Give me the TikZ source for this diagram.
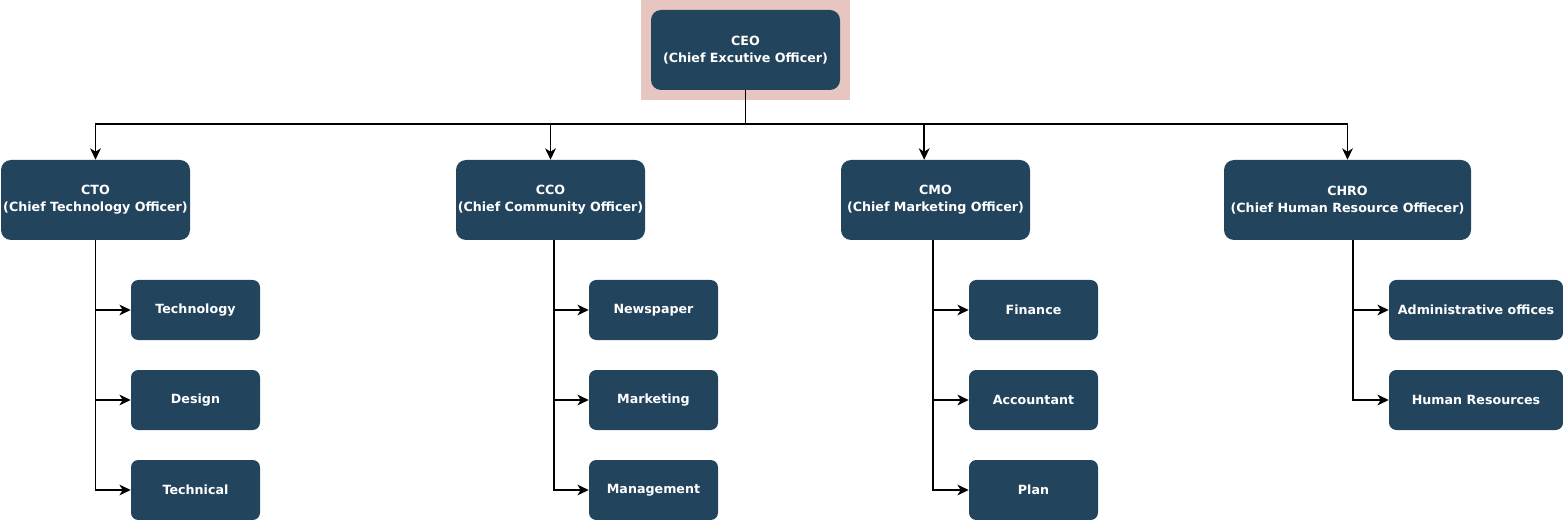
\documentclass[tikz,border=0pt]{standalone}
\usepackage{fontspec}
\setmainfont{DejaVu Sans}
\usetikzlibrary{arrows.meta}
\usepackage{xcolor}

\definecolor{boxblue}{RGB}{35,68,93}
\definecolor{ceopink}{RGB}{231,198,193}

\tikzset{
  chief/.style={draw=none, fill=boxblue, rounded corners=7.5pt, text=white, font=\bfseries\fontsize{9.5}{12.5}\selectfont, align=center, minimum width=141.75pt, minimum height=60pt, inner sep=0pt},
  dept/.style={draw=none, fill=boxblue, rounded corners=5.5pt, text=white, font=\bfseries\fontsize{9.5}{12.5}\selectfont, align=center, minimum width=96.75pt, minimum height=45pt, inner sep=0pt},
  link/.style={draw=black, line width=1.3pt, -{Stealth[length=8.5pt, width=8pt, inset=2.5pt]}}
}

\begin{document}
\begin{tikzpicture}[x=0.75pt,y=0.75pt,yscale=-1,xscale=1]
\useasboundingbox (0,0) rectangle (1563,520);

%Shape: Rectangle behind CEO
\fill [ceopink] (641,0) rectangle (850,100);

% Chief nodes
\node [chief] (ceo) at (745.5,50) {CEO\\(Chief Excutive Officer)};
\node [chief] (cto) at (95.5,200) {CTO\\(Chief Technology Officer)};
\node [chief] (cco) at (550.5,200) {CCO\\(Chief Community Officer)};
\node [chief] (cmo) at (935.5,200) {CMO\\(Chief Marketing Officer)};
\node [chief, minimum width=185.25pt] (chro) at (1347.5,200) {CHRO\\(Chief Human Resource Offiecer)};

% Department nodes
\node [dept] (tech) at (195.5,310) {Technology};
\node [dept] (design) at (195.5,400) {Design};
\node [dept] (technical) at (195.5,490) {Technical};
\node [dept] (news) at (653.5,310) {Newspaper};
\node [dept] (mkt) at (653.5,400) {Marketing};
\node [dept] (mgmt) at (653.5,490) {Management};
\node [dept] (fin) at (1033.5,310) {Finance};
\node [dept] (acc) at (1033.5,400) {Accountant};
\node [dept] (plan) at (1033.5,490) {Plan};
\node [dept, minimum width=130.5pt] (admin) at (1476,310) {Administrative offices};
\node [dept, minimum width=130.5pt] (hr) at (1476,400) {Human Resources};

% Bus under CEO
\coordinate (bus) at (745.5,124);
\draw [line width=1.3pt] (ceo.south) -- (bus);
\draw [link] (bus) -| (cto.north);
\draw [link] (bus) -| (cco.north);
\draw [link] (bus) -| ([xshift=-8.5pt]cmo.north);
\draw [link] (bus) -| (chro.north);

% CTO branch
\draw [link] (cto.south) |- (tech.west);
\draw [link] (cto.south) |- (design.west);
\draw [link] (cto.south) |- (technical.west);
% CCO branch
\draw [link] ([xshift=2.6pt]cco.south) |- (news.west);
\draw [link] ([xshift=2.6pt]cco.south) |- (mkt.west);
\draw [link] ([xshift=2.6pt]cco.south) |- (mgmt.west);
% CMO branch
\draw [link] ([xshift=-1.9pt]cmo.south) |- (fin.west);
\draw [link] ([xshift=-1.9pt]cmo.south) |- (acc.west);
\draw [link] ([xshift=-1.9pt]cmo.south) |- (plan.west);
% CHRO branch
\draw [link] ([xshift=4.1pt]chro.south) |- (admin.west);
\draw [link] ([xshift=4.1pt]chro.south) |- (hr.west);

\end{tikzpicture}
\end{document}
